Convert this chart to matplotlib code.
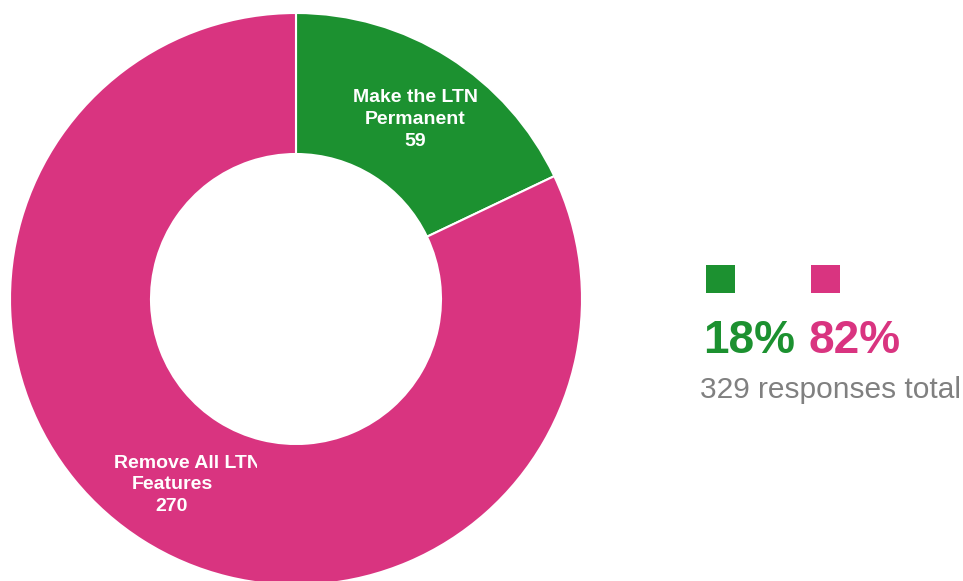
import numpy as np
import matplotlib.pyplot as plt
from matplotlib.patches import Rectangle
from matplotlib.transforms import Bbox

labels = ['Make the LTN\nPermanent', 'Remove All LTN\nFeatures']
values = [59, 270]
colors = ['#1c9130', '#d93480']

W, H = 963, 581
fig = plt.figure(figsize=(W / 100, H / 100), dpi=100)
ax = fig.add_axes([0, 0, 1, 1])

cx, cy = 296, H - 299
r_out, r_in = 286, 145

wedges, _ = ax.pie(values, colors=colors, startangle=90, counterclock=False,
                   radius=r_out, center=(cx, cy),
                   wedgeprops=dict(width=r_out - r_in, edgecolor='white', linewidth=1.5))
ax.set_xlim(0, W)
ax.set_ylim(0, H)
ax.axis('off')

font = ['Liberation Sans', 'DejaVu Sans']
style = dict(color='white', fontsize=14, fontweight='bold', family=font)
r_mid = (r_out + r_in) / 2

# green label, centred in its slice
w = wedges[0]
ang = np.deg2rad((w.theta1 + w.theta2) / 2)
x = cx + r_mid * np.cos(ang) + 4
y = cy + r_mid * np.sin(ang) - 3
ax.text(x, y, f'{labels[0]}\n{values[0]}', ha='center', va='center',
        linespacing=1.38, **style)

# pink label; first line is cut off on the right in the original
w = wedges[1]
ang = np.deg2rad((w.theta1 + w.theta2) / 2)
x = cx + r_mid * np.cos(ang) - 9
y = cy + r_mid * np.sin(ang) + 5
first, second = labels[1].split('\n')
ax.text(x, y, f'{second}\n{values[1]}', ha='center', va='top', linespacing=1.38, **style)
t = ax.text(x - 58, y + 4, first, ha='left', va='bottom', **style)
t.set_clip_box(Bbox.from_extents(0, 0, 257, H))
t.set_clip_on(True)

# legend with percentages
total = sum(values)
sq_x = [706, 811]
for i, (c, v) in enumerate(zip(colors, values)):
    ax.add_patch(Rectangle((sq_x[i], H - 293), 29, 28, color=c, lw=0))
    ax.text(sq_x[i] - 3, H - 353, f'{round(v / total * 100)}%', ha='left', va='baseline',
            color=c, fontsize=33, fontweight='bold', family=font)

ax.text(700, H - 398, f'{total} responses total', ha='left', va='baseline',
        color='#808080', fontsize=21.5, family=font)

fig.savefig('out.png', dpi=100)
